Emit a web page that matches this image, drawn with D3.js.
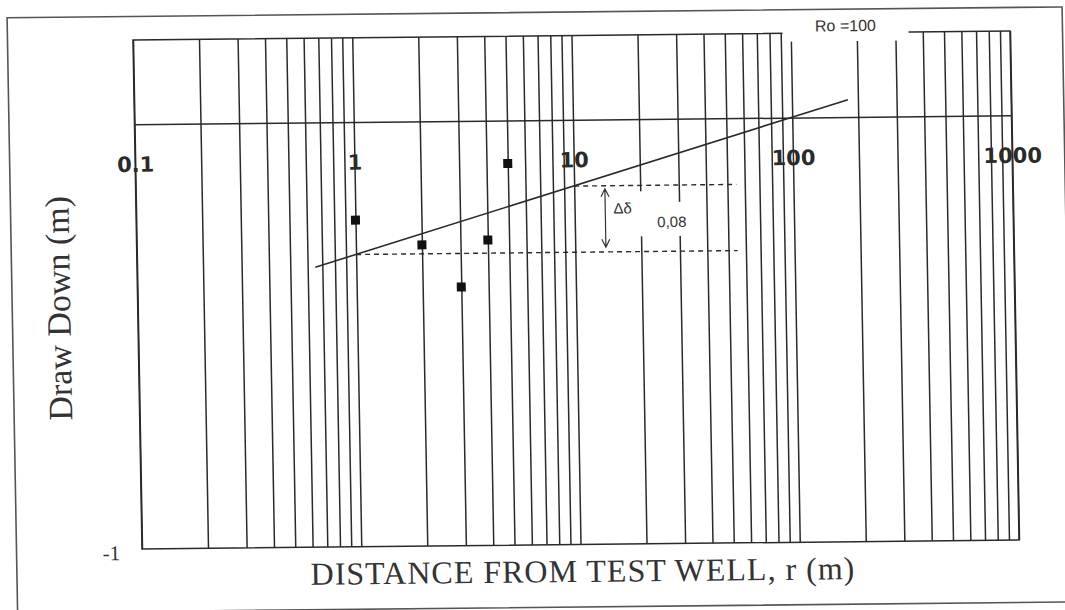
<!DOCTYPE html>
<html>
<head>
<meta charset="utf-8">
<script src="https://cdn.jsdelivr.net/npm/d3@7"></script>
<style>
  body { margin: 0; background: #fff; }
  svg { display: block; }
</style>
</head>
<body>
<div id="root"></div>
<script>
// observed draw down at each observation well
const distance = [1, 2, 3, 4, 5];
const drawDown = [-0.23, -0.29, -0.39, -0.28, -0.10];

// straight line fitted through the points (ends)
const fitR = [0.65, 180];
const fitS = [-0.34, 0.042];

// dashed construction lines for the delta per log cycle
const deltaLevels = [-0.155, -0.311];
const deltaFrom = [10, 1];
const deltaTo = 55;
const arrowR = 13.8;
const arrowS = [-0.162, -0.300];

const xLabelValues = [0.1, 1, 10, 100, 1000];
const xLabelText = ['0.1', '1', '10', '100', '1000'];
const yLabelValues = [-1];

const width = 1065, height = 610;
const plotLeft = 137.5, plotRight = 1014.5, plotTop = 35.5, plotBottom = 544.5;
const ink = '#2a2a2a';

const svg = d3.select('#root').append('svg')
    .attr('width', width)
    .attr('height', height)
svg.append('rect').attr('width', width).attr('height', height).attr('fill', '#fff')

// the scan is slightly skewed, so the whole sheet is sheared a bit
const cx = 576, cy = 290;
const page = svg.append('g')
    .attr('transform', `translate(${cx},${cy}) matrix(1,-0.0103,0.0177,1,0,0) translate(${-cx},${-cy})`)

const x = d3.scaleLog().domain([0.1, 1000]).range([plotLeft, plotRight]);
const y = d3.scaleLinear().domain([-1, 0.2]).range([plotBottom, plotTop]);

// sheet frame
page.append('rect')
    .attr('x', 12).attr('y', 12)
    .attr('width', 1055).attr('height', 595)
    .attr('fill', 'none').attr('stroke', '#555').attr('stroke-width', 1.6)

// vertical log grid
const grid = page.append('g')
    .attr('transform', `translate(0,${plotTop})`)
    .call(d3.axisTop(x).tickValues(x.ticks()).tickSize(-(plotBottom - plotTop)).tickFormat(''))
grid.select('.domain').remove()
grid.selectAll('.tick line').attr('stroke', ink).attr('stroke-width', 1.5)

// plot border and the zero line
page.append('rect')
    .attr('x', plotLeft).attr('y', plotTop)
    .attr('width', plotRight - plotLeft).attr('height', plotBottom - plotTop)
    .attr('fill', 'none').attr('stroke', ink).attr('stroke-width', 1.5)
page.append('line')
    .attr('x1', plotLeft).attr('x2', plotRight)
    .attr('y1', y(0)).attr('y2', y(0))
    .attr('stroke', ink).attr('stroke-width', 1.5)

// blank patch where "Ro =100" was pasted over the grid
page.append('rect')
    .attr('x', 787).attr('y', 28)
    .attr('width', 126).attr('height', 16)
    .attr('fill', '#fff')
page.append('text')
    .attr('x', 850).attr('y', 34)
    .attr('text-anchor', 'middle')
    .style('font', '16px "Liberation Sans", Arial, sans-serif')
    .attr('fill', '#333')
    .text('Ro =100')

// x tick labels sit just under the zero line
const xAxis = page.append('g')
    .attr('transform', `translate(0,${y(0)})`)
    .call(d3.axisBottom(x).tickValues(xLabelValues).tickSize(0)
        .tickFormat((d, i) => xLabelText[i]))
xAxis.select('.domain').remove()
xAxis.selectAll('text')
    .attr('y', 47).attr('dy', null)
    .attr('fill', '#2a2a2a')
    .style('font', 'bold 21px "DejaVu Sans", Verdana, sans-serif')

const yAxis = page.append('g')
    .attr('transform', `translate(${plotLeft},0)`)
    .call(d3.axisLeft(y).tickValues(yLabelValues).tickSize(0).tickPadding(22)
        .tickFormat(d => String(d)))
yAxis.select('.domain').remove()
yAxis.selectAll('text')
    .attr('dy', '0.5em')
    .attr('fill', '#333')
    .attr('font-family', '"Liberation Serif", "Times New Roman", serif')
    .attr('font-size', 21)

// dashed construction lines
page.selectAll('.delta')
    .data(deltaLevels)
    .enter().append('line')
    .attr('class', 'delta')
    .attr('x1', (d, i) => x(deltaFrom[i]))
    .attr('x2', x(deltaTo))
    .attr('y1', d => y(d)).attr('y2', d => y(d))
    .attr('stroke', ink).attr('stroke-width', 1.4)
    .attr('stroke-dasharray', '5,4')

// white boxes behind the annotation text
page.append('rect').attr('x', 612).attr('y', 192).attr('width', 36).attr('height', 45).attr('fill', '#fff')
page.append('rect').attr('x', 655).attr('y', 203).attr('width', 37).attr('height', 34).attr('fill', '#fff')

// double headed arrow
const ax = x(arrowR), ay1 = y(arrowS[0]), ay2 = y(arrowS[1]);
page.append('path')
    .attr('d', `M${ax},${ay1}L${ax},${ay2}` +
        `M${ax - 4},${ay1 + 8}L${ax},${ay1}L${ax + 4},${ay1 + 8}` +
        `M${ax - 4},${ay2 - 8}L${ax},${ay2}L${ax + 4},${ay2 - 8}`)
    .attr('fill', 'none').attr('stroke', '#333').attr('stroke-width', 1.2)

page.append('text')
    .attr('x', 624).attr('y', 214)
    .attr('text-anchor', 'middle')
    .style('font', '15px "Liberation Sans", Arial, sans-serif')
    .attr('fill', '#333')
    .text('\u0394\u03b4')
page.append('text')
    .attr('x', 673).attr('y', 228)
    .attr('text-anchor', 'middle')
    .style('font', '15px "Liberation Sans", Arial, sans-serif')
    .attr('fill', '#333')
    .text('0,08')

// fitted line
page.append('path')
    .datum(fitR.map((r, i) => [r, fitS[i]]))
    .attr('d', d3.line().x(d => x(d[0])).y(d => y(d[1])))
    .attr('fill', 'none').attr('stroke', ink).attr('stroke-width', 1.6)

// observation points
page.selectAll('.pt')
    .data(distance)
    .enter().append('rect')
    .attr('class', 'pt')
    .attr('x', d => x(d) - 4.5)
    .attr('y', (d, i) => y(drawDown[i]) - 4.5)
    .attr('width', 9).attr('height', 9)
    .attr('fill', '#111')

// axis titles
page.append('text')
    .attr('x', 578).attr('y', 582)
    .attr('text-anchor', 'middle')
    .style('font', '32px "Liberation Serif", "Times New Roman", serif')
    .style('letter-spacing', '1px')
    .attr('fill', '#333')
    .text('DISTANCE FROM TEST WELL, r (m)')
page.append('text')
    .attr('transform', 'translate(70,303) rotate(-90)')
    .attr('text-anchor', 'middle')
    .style('font', '34px "Liberation Serif", "Times New Roman", serif')
    .attr('fill', '#333')
    .text('Draw Down (m)')
</script>
</body>
</html>
